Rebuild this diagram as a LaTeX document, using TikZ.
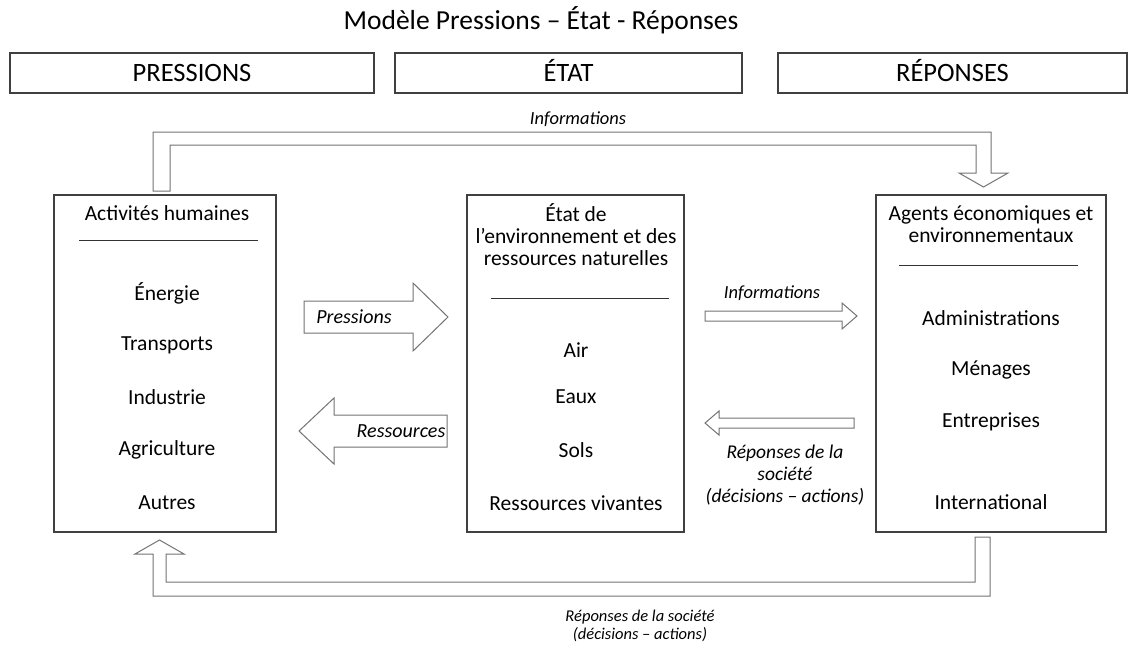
\documentclass[tikz,border=0pt]{standalone}
\usepackage{fontspec}
\setmainfont{Carlito}
\usetikzlibrary{positioning}

\tikzset{
	titre/.style={font=\fontsize{27.5}{32}\selectfont},
	entete/.style={draw=black!75, line width=1.1pt, minimum width=364pt, minimum height=40pt, text height=17pt, text depth=0pt, font=\fontsize{26.5}{31}\selectfont},
	bloc/.style={draw=black!75, line width=1.1pt, minimum height=337pt},
	item/.style={font=\fontsize{21.5}{22}\selectfont, align=center},
	etiq/.style={font=\fontsize{18.5}{22}\selectfont\itshape, align=center},
	fleche/.style={draw=black!55, line width=1pt, fill=white, line join=miter},
	trait/.style={draw=black!80, line width=0.9pt}
}

\begin{document}
\begin{tikzpicture}[x=1pt,y=-1pt]
	\useasboundingbox (0,0) rectangle (1137,649);

	\node[titre] (titre) at (541,20) {Modèle Pressions – État - Réponses};

	\node[entete] (hpress) at (192,73) {PRESSIONS};
	\node[entete, minimum width=347pt] (hetat) at (568.5,73) {ÉTAT};
	\node[entete, minimum width=349pt] (hrep) at (952.5,73) {RÉPONSES};

	% les trois blocs
	\node[bloc, minimum width=222pt] (act) at (165,363.5) {};
	\node[bloc, minimum width=217pt] (env) at (575.5,363.5) {};
	\node[bloc, minimum width=230pt] (agents) at (991,363.5) {};

	% activites humaines
	\node[item] (acttitre) at (167,213) {Activités humaines};
	\draw[trait] (79,240) -- (258,240);
	\node[item] (energie) at (167,293) {Énergie};
	\node[item] (transp) at (167,345) {Transports};
	\node[item] (indus) at (167,397) {Industrie};
	\node[item] (agri) at (167,450) {Agriculture};
	\node[item] (autres) at (167,503) {Autres};

	% etat de l'environnement
	\node[item] (envtitre) at (576,235) {État de\\l’environnement et des\\ressources naturelles};
	\draw[trait] (491,298) -- (669,298);
	\node[item] (air) at (576,350) {Air};
	\node[item] (eaux) at (576,397) {Eaux};
	\node[item] (sols) at (576,450) {Sols};
	\node[item] (vivant) at (576,503) {Ressources vivantes};

	% agents
	\node[item] (agtitre) at (991,224) {Agents économiques et\\environnementaux};
	\draw[trait] (899,265) -- (1078,265);
	\node[item] (admin) at (991,318) {Administrations};
	\node[item] (menages) at (991,370) {Ménages};
	\node[item] (entr) at (991,422) {Entreprises};
	\node[item] (inter) at (991,502) {International};

	% fleches du milieu
	\draw[fleche] (304,301) -- (413,301) -- (413,283) -- (448,317) -- (413,351) -- (413,333) -- (304,333) -- cycle;
	\node[etiq, font=\fontsize{20}{24}\selectfont\itshape] (pression) at (354,317) {Pressions};

	\draw[fleche] (447,415) -- (334,415) -- (334,398) -- (299,431) -- (334,464) -- (334,447) -- (447,447) -- cycle;
	\node[etiq, font=\fontsize{20}{24}\selectfont\itshape] (ressour) at (401,431) {Ressources};

	\draw[fleche] (705,311) -- (842,311) -- (842,303) -- (857,316) -- (842,329) -- (842,321) -- (705,321) -- cycle;
	\node[etiq] (infomil) at (772,293) {Informations};

	\draw[fleche] (854,418) -- (719,418) -- (719,411) -- (705,423) -- (719,435) -- (719,428) -- (854,428) -- cycle;
	\node[etiq, font=\fontsize{19.5}{22}\selectfont\itshape] (repmil) at (785,475) {Réponses de la\\société\\(décisions – actions)};

	% boucle du haut
	\draw[fleche] (153,191) -- (153,132) -- (991,132) -- (991,173) -- (1008,173) -- (983.5,187) -- (959,173) -- (976,173) -- (976,145) -- (170,145) -- (170,191) -- cycle;
	\node[etiq] (infohaut) at (578,119) {Informations};

	% boucle du bas
	\draw[fleche] (975,537) -- (990,537) -- (990,596) -- (153,596) -- (153,554) -- (135,554) -- (159.5,540) -- (184,554) -- (166,554) -- (166,582) -- (975,582) -- cycle;
	\node[etiq, font=\fontsize{16.5}{18.5}\selectfont\itshape] (repbas) at (640,626) {Réponses de la société\\(décisions – actions)};
\end{tikzpicture}
\end{document}
